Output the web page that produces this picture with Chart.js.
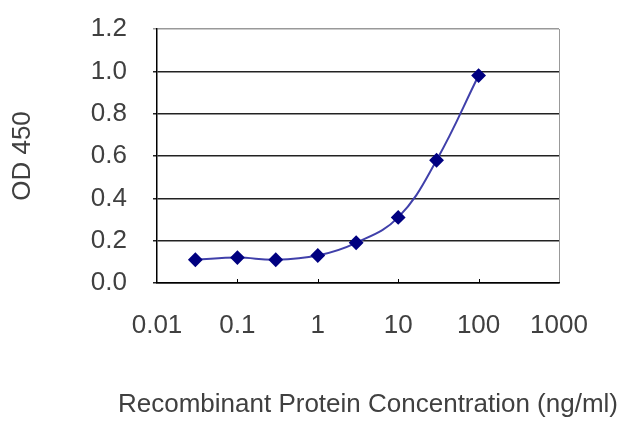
<!DOCTYPE html>
<html>
<head>
<meta charset="utf-8">
<script src="https://cdn.jsdelivr.net/npm/chart.js@4.4.1/dist/chart.umd.min.js"></script>
<style>
  html, body { margin: 0; padding: 0; background: #fff; }
  #wrap { width: 640px; height: 427px; }
</style>
</head>
<body>
<div id="wrap"><canvas id="grafico"></canvas></div>
<script>
// concentracoes (ng/ml) e leitura OD 450
const concentracoes = [0.03, 0.1, 0.3, 1, 3, 10, 30, 100];
const leituras = [0.11, 0.12, 0.11, 0.13, 0.19, 0.31, 0.58, 0.98];
const xTicks = [0.01, 0.1, 1, 10, 100, 1000];
const yTicks = [0, 0.2, 0.4, 0.6, 0.8, 1.0, 1.2];
const tituloX = 'Recombinant Protein Concentration (ng/ml)';

const fonte = { family: "'Liberation Sans', Arial, sans-serif", size: 26 };
const corTexto = '#404040';

// marquinhas do eixo x para dentro da area + titulo do eixo x sem compressao
const extras = {
    id: 'extras',
    afterDraw(chart) {
        const x = chart.scales.x;
        const ctx = chart.ctx;
        const area = chart.chartArea;
        ctx.save();
        ctx.strokeStyle = '#000';
        ctx.lineWidth = 1;
        xTicks.slice(1, -1).forEach(function(v) {
            const px = Math.round(x.getPixelForValue(v)) + 0.5;
            ctx.beginPath();
            ctx.moveTo(px, area.bottom);
            ctx.lineTo(px, area.bottom - 4);
            ctx.stroke();
        });
        ctx.font = fonte.size + 'px ' + fonte.family;
        ctx.fillStyle = corTexto;
        ctx.textAlign = 'center';
        ctx.textBaseline = 'middle';
        ctx.fillText(tituloX, (area.left + area.right) / 2 + 10, chart.height - 22);
        ctx.restore();
    }
};

const ctx = document.getElementById('grafico').getContext('2d');
const grafico = new Chart(ctx, {
    type: 'line',
    data: {
        datasets: [{
            label: 'OD 450',
            data: concentracoes.map(function(c, i) { return { x: c, y: leituras[i] }; }),
            borderColor: '#4040aa',
            borderWidth: 2,
            tension: 0.4,
            pointStyle: 'rectRot',
            pointRadius: 6,
            pointBackgroundColor: '#000080',
            pointBorderColor: '#000080',
            fill: false
        }]
    },
    options: {
        responsive: true,
        maintainAspectRatio: false,
        animation: false,
        layout: { padding: { top: 29, right: 81, left: 0, bottom: 0 } },
        plugins: {
            legend: { display: false },
            tooltip: { enabled: false }
        },
        scales: {
            x: {
                type: 'logarithmic',
                min: 0.01,
                max: 1000,
                afterBuildTicks: function(scale) {
                    scale.ticks = xTicks.map(function(v) { return { value: v }; });
                },
                afterFit: function(scale) {
                    scale.height = 144;
                    scale.paddingLeft = 0;
                    scale.paddingRight = 0;
                },
                ticks: {
                    autoSkip: false,
                    maxRotation: 0,
                    padding: 27,
                    color: corTexto,
                    font: fonte,
                    callback: function(value) { return String(value); }
                },
                grid: {
                    drawTicks: false,
                    color: function(c) {
                        return c.tick && c.tick.value === 1000 ? '#999' : 'rgba(0,0,0,0)';
                    }
                },
                border: { display: true, color: '#000', width: 1.5 }
            },
            y: {
                min: 0,
                max: 1.2,
                afterBuildTicks: function(scale) {
                    scale.ticks = yTicks.map(function(v) { return { value: v }; });
                },
                afterFit: function(scale) {
                    scale.width = 157;
                    scale.paddingTop = 0;
                    scale.paddingBottom = 0;
                },
                ticks: {
                    padding: 26,
                    color: corTexto,
                    font: fonte,
                    callback: function(value) { return value.toFixed(1); }
                },
                grid: {
                    drawTicks: true,
                    tickLength: 4,
                    lineWidth: 1.5,
                    color: function(c) {
                        return c.tick && c.tick.value === 1.2 ? '#999' : '#222';
                    }
                },
                border: { display: true, color: '#000', width: 1.5 },
                title: {
                    display: true,
                    text: 'OD 450',
                    color: corTexto,
                    font: fonte,
                    padding: { top: 7, bottom: 0 }
                }
            }
        }
    },
    plugins: [extras]
});
</script>
</body>
</html>
